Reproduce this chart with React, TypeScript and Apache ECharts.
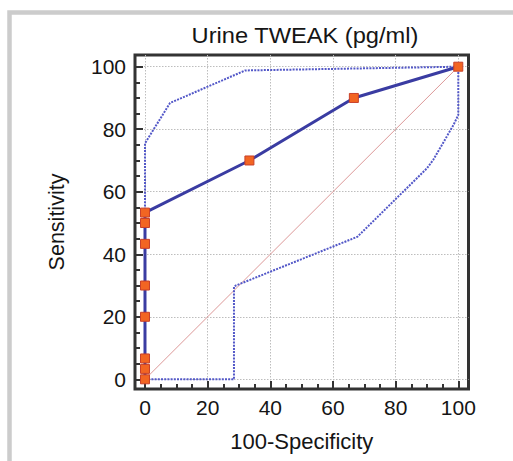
import React, { useEffect, useRef } from "react";
import * as echarts from "echarts";

const rocX = [0, 0, 0, 0, 0, 0, 0, 0, 33.33, 66.67, 100];
const rocY = [0, 3.33, 6.67, 20, 30, 43.33, 50, 53.33, 70, 90, 100];

const upperX = [0, 0, 8, 32, 100];
const upperY = [0, 75.5, 88.4, 98.8, 100];

const lowerX = [0, 28.4, 28.4, 29, 67.8, 90, 92, 98.5, 100, 100];
const lowerY = [0, 0, 29.6, 30, 45.6, 67.5, 70.2, 81.4, 84.6, 100];

const diagX = [0, 100];
const diagY = [0, 100];

const majorTicks = [0, 20, 40, 60, 80, 100];
const minorTicks = [5, 10, 15, 25, 30, 35, 45, 50, 55, 65, 70, 75, 85, 90, 95];

const titleText = "Urine TWEAK (pg/ml)";
const xName = "100-Specificity";
const yName = "Sensitivity";

const FONT = '"Liberation Sans", Arial, Helvetica, sans-serif';

const zip = (xs: number[], ys: number[]) => xs.map((x, i) => [x, ys[i]]);

export default function App() {
  const ref = useRef<HTMLDivElement>(null);
  useEffect(() => {
    if (!ref.current) return;
    const chart = echarts.init(ref.current, undefined, { renderer: "svg" });
    const xMin = -3.19, xMax = 103.26, yMin = -3.1, yMax = 103.74;
    const tickStyle = { color: "#333", width: 2 };
    const labelStyle = { fontSize: 21, color: "#151515", fontFamily: FONT };
    const noLine = { show: false, onZero: false };
    const baseX = { type: "value", min: xMin, max: xMax, position: "bottom", gridIndex: 0, axisLine: noLine };
    const baseY = { type: "value", min: yMin, max: yMax, position: "left", gridIndex: 0, axisLine: noLine };
    const gridLine = { show: true, lineStyle: { color: "#bdbdbd", type: [1.5, 1.5], width: 1 } };
    chart.setOption({
      animation: false,
      backgroundColor: "#ffffff",
      grid: {
        left: 135,
        top: 55,
        width: 333.5,
        height: 334,
        show: true,
        borderColor: "#333",
        borderWidth: 3,
        backgroundColor: "#fff",
        containLabel: false,
      },
      graphic: [
        {
          type: "rect",
          shape: { x: 9.5, y: 12.5, width: 1000, height: 1000 },
          style: { fill: "none", stroke: "#cccccc", lineWidth: 4.5 },
          silent: true,
          z: -10,
        },
        {
          type: "text",
          x: 305,
          y: 36,
          scaleX: 1.1,
          style: {
            text: titleText,
            fill: "#151515",
            fontSize: 21.5,
            fontFamily: FONT,
            align: "center",
            verticalAlign: "middle",
          },
        },
      ],
      xAxis: [
        {
          ...baseX,
          axisTick: { show: true, inside: true, length: 8, lineStyle: tickStyle, customValues: majorTicks },
          axisLabel: { ...labelStyle, margin: 8, customValues: majorTicks },
          splitLine: gridLine,
          name: xName,
          nameLocation: "middle",
          nameGap: 41,
          nameTextStyle: { fontSize: 22, color: "#151515", fontFamily: FONT },
        },
        {
          ...baseX,
          axisTick: { show: true, inside: true, length: 5, lineStyle: tickStyle, customValues: minorTicks },
          axisLabel: { show: false },
          splitLine: { show: false },
        },
      ],
      yAxis: [
        {
          ...baseY,
          axisTick: { show: true, inside: true, length: 8, lineStyle: tickStyle, customValues: majorTicks },
          axisLabel: { ...labelStyle, margin: 9, customValues: majorTicks },
          splitLine: gridLine,
          name: yName,
          nameLocation: "middle",
          nameGap: 67,
          nameTextStyle: { fontSize: 21.5, color: "#151515", fontFamily: FONT },
        },
        {
          ...baseY,
          axisTick: { show: true, inside: true, length: 5, lineStyle: tickStyle, customValues: minorTicks },
          axisLabel: { show: false },
          splitLine: { show: false },
        },
      ],
      series: [
        {
          type: "line",
          xAxisIndex: 0,
          yAxisIndex: 0,
          data: zip(diagX, diagY),
          showSymbol: false,
          symbol: "none",
          lineStyle: { color: "#dc9898", width: 1 },
          z: 2,
        },
        {
          type: "line",
          xAxisIndex: 0,
          yAxisIndex: 0,
          data: zip(lowerX, lowerY),
          symbol: "none",
          lineStyle: { color: "#5358c8", width: 2, type: [2, 1.2] },
          z: 3,
        },
        {
          type: "line",
          xAxisIndex: 0,
          yAxisIndex: 0,
          data: zip(upperX, upperY),
          symbol: "none",
          lineStyle: { color: "#5358c8", width: 2, type: [2, 1.2] },
          z: 3,
        },
        {
          type: "line",
          xAxisIndex: 0,
          yAxisIndex: 0,
          data: zip(rocX, rocY),
          symbol: "rect",
          symbolSize: 9,
          itemStyle: { color: "#f26522", borderColor: "#c8402a", borderWidth: 1 },
          lineStyle: { color: "#3a3ca2", width: 3 },
          z: 5,
        },
      ],
    });
    return () => chart.dispose();
  }, []);
  return (
    <div
      ref={ref}
      style={{ position: "fixed", left: 0, top: 0, width: 513, height: 461, background: "#fff" }}
    />
  );
}
